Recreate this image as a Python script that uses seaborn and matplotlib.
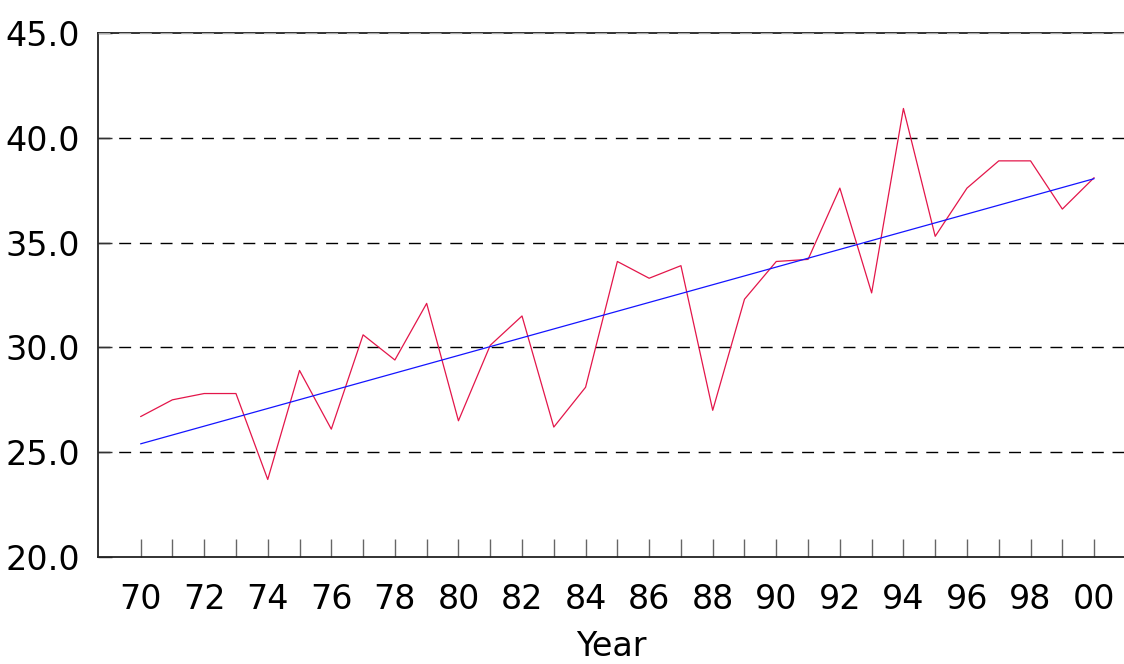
import numpy as np
import pandas as pd
import seaborn as sns
import matplotlib
matplotlib.use("Agg")
import matplotlib.pyplot as plt

# values
years = list(range(1970, 2001))
values = [26.7, 27.5, 27.8, 27.8, 23.7, 28.9, 26.1, 30.6, 29.4, 32.1,
          26.5, 30.1, 31.5, 26.2, 28.1, 34.1, 33.3, 33.9, 27.0, 32.3,
          34.1, 34.2, 37.6, 32.6, 41.4, 35.3, 37.6, 38.9, 38.9, 36.6,
          38.1]
trend_years = [1970, 2000]
trend_values = [25.4, 38.05]
year_labels = ["70", "", "72", "", "74", "", "76", "", "78", "", "80", "",
               "82", "", "84", "", "86", "", "88", "", "90", "", "92", "",
               "94", "", "96", "", "98", "", "00"]
y_ticks = [20, 25, 30, 35, 40, 45]

df = pd.DataFrame({"Year": years, "Value": values})
trend = pd.DataFrame({"Year": trend_years, "Value": trend_values})

sns.set_style("white")
plt.rcParams['font.family'] = ['DejaVu Sans']
plt.rcParams['text.color'] = 'black'
plt.rcParams['xtick.color'] = 'black'
plt.rcParams['ytick.color'] = 'black'

fig = plt.figure(figsize=(11.24, 6.64), dpi=100)
ax = fig.add_axes([0.0872, 0.1611, 0.9128, 0.7892])

sns.lineplot(data=df, x="Year", y="Value", ax=ax, color="#E3164A", lw=0.9)
sns.lineplot(data=trend, x="Year", y="Value", ax=ax, color="#1414FF", lw=0.9)

ax.set_xlim(1968.66, 2000.94)
ax.set_ylim(20, 45)
ax.set_yticks(y_ticks)
ax.set_yticklabels([f"{t:.1f}" for t in y_ticks])
ax.set_xticks(years)
ax.set_xticklabels(year_labels)

dash = (0, (8.6, 6.3))
for t in y_ticks[1:-1]:
    ax.axhline(t, color="black", lw=1.0, ls=dash, zorder=0.5)
ax.axhline(y_ticks[-1], color="#aaaaaa", lw=1.0, ls=dash, zorder=3)

ax.tick_params(axis="x", bottom=True, direction="in", length=13, width=1.0,
               color="#666666", labelsize=24, labelcolor="black", pad=19)
ax.tick_params(axis="y", left=True, direction="in", length=10, width=1.0,
               color="#333333", labelsize=24, labelcolor="black", pad=13)

ax.set_xlabel("Year", fontsize=24, labelpad=10, color="black")
ax.set_ylabel("")

for s in ["left", "bottom", "top"]:
    ax.spines[s].set_color("#222222")
    ax.spines[s].set_linewidth(1.3)
ax.spines["right"].set_visible(False)

fig.savefig("out.png", dpi=100)
